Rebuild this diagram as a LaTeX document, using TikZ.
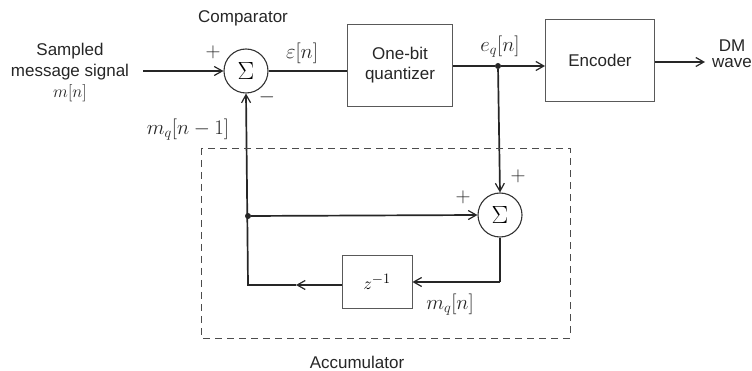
\documentclass[tikz,border=0pt]{standalone}
\usepackage{fontspec}
\setmainfont{Liberation Sans}
\usetikzlibrary{arrows.meta}
\begin{document}
\begin{tikzpicture}[x=1pt,y=-1pt,
  ln/.style={draw=black!85, line width=1.7pt},
  arr/.style={ln, -{Straight Barb[length=8pt,width=9pt,line width=1.2pt]}},
  blk/.style={draw=black!65, line width=0.9pt, inner sep=0pt, align=center},
  sumc/.style={draw=black!80, line width=1.1pt, circle, minimum size=44pt, inner sep=0pt, font=\fontsize{25}{25}\selectfont},
  lab/.style={font=\fontsize{17}{20}\selectfont, text=black!85, inner sep=1pt},
  mlab/.style={font=\fontsize{20}{22}\selectfont, text=black!85, inner sep=1pt},
  dotc/.style={circle, fill=black!85, minimum size=6pt, inner sep=0pt},
  acc/.style={draw=black!70, line width=0.9pt, dash pattern=on 7pt off 5pt}
]
\useasboundingbox (0,0) rectangle (752,371);
% nodes
\node[lab] (comp) at (243,18) {Comparator};
\node[lab, align=center, font=\fontsize{17}{21}\selectfont] (src) at (70,72) {Sampled\\message signal\\$m[n]$};
\node[sumc] (s1) at (246,71) {$\Sigma$};
\node[blk, lab, minimum width=105pt, minimum height=82pt] (q) at (400,65) {One-bit\\quantizer};
\node[blk, lab, minimum width=109pt, minimum height=82pt] (enc) at (600,60) {Encoder};
\node[lab, align=center, font=\fontsize{17}{16}\selectfont] (dm) at (732,54) {DM\\wave};
\node[dotc] (j1) at (498,66) {};
\node[sumc] (s2) at (500,215) {$\Sigma$};
\node[dotc] (j2) at (248,216) {};
\node[blk, minimum width=70pt, minimum height=53pt, font=\fontsize{19}{19}\selectfont] (z) at (377,282) {$z^{-1}$};
% labels
\node[mlab] (pl1) at (213,52) {$+$};
\node[mlab] (mi1) at (267,97) {$-$};
\node[mlab] (eps) at (302,53) {$\varepsilon[n]$};
\node[mlab] (eq) at (500,47) {$e_q[n]$};
\node[mlab] (pl2) at (518,176) {$+$};
\node[mlab] (pl3) at (463,197) {$+$};
\node[mlab] (mq1) at (188,130) {$m_q[n-1]$};
\node[mlab] (mq) at (450,305) {$m_q[n]$};
\node[lab] (accl) at (357,362) {Accumulator};
% coordinates
\coordinate (a0) at (143,71);
\coordinate (dmend) at (705,62);
\coordinate (c2) at (500,282);
\coordinate (m1) at (296,285);
\coordinate (c1) at (248,285);
% connectors
\draw[arr] (a0) -- (s1.west);
\draw[ln] (s1.east) -- (q.west |- s1.east);
\draw[ln] (q.east |- j1) -- (j1);
\draw[arr] (j1) -- (enc.west |- j1);
\draw[arr] (enc.east |- dmend) -- (dmend);
\draw[arr] (j1) -- (s2.north);
\draw[arr] (j2) -- (s2.west);
\draw[ln] (s2.south) -- (c2);
\draw[arr] (c2) -- (z.east |- c2);
\draw[arr] (z.west |- m1) -- (m1);
\draw[arr] (m1) -- (c1) -- (s1.south);
% accumulator box
\draw[acc] (201,148) rectangle (570,338);
\end{tikzpicture}
\end{document}
